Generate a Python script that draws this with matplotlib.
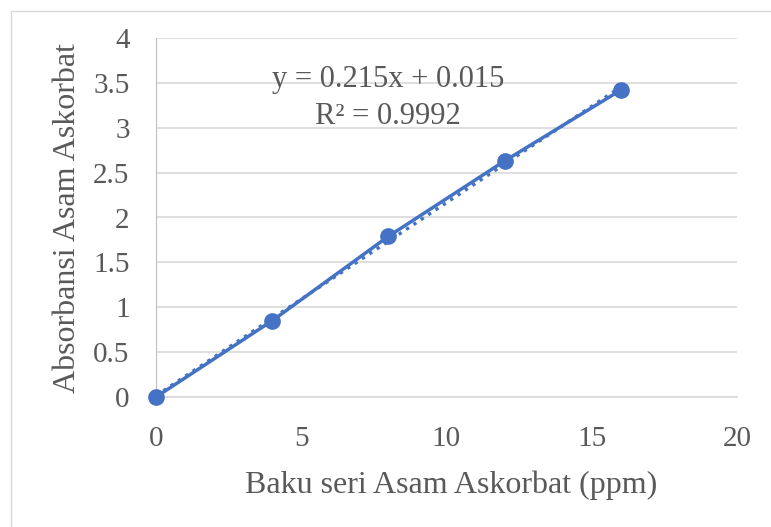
import matplotlib
matplotlib.use("Agg")
import matplotlib.pyplot as plt
import numpy as np
from matplotlib.patches import Rectangle

conc = [0, 4, 8, 12, 16]
absorb = [0.0, 0.85, 1.79, 2.63, 3.42]
slope = 0.215
intercept = 0.015
eq_text = "y = 0.215x + 0.015"
r2_text = "R² = 0.9992"
xticks = [0, 5, 10, 15, 20]
yticks = [0, 0.5, 1, 1.5, 2, 2.5, 3, 3.5, 4]
ytick_labels = ["0", "0.5", "1", "1.5", "2", "2.5", "3", "3.5", "4"]

plt.rcParams['font.family'] = ['Liberation Serif', 'DejaVu Serif']
blue = '#4472C4'
txt = '#595959'

W, H = 771, 527
fig = plt.figure(figsize=(W/100, H/100), dpi=100)
fig.patches.append(Rectangle((11/W, -0.1), 1.1, 1 - 11/H + 0.1, transform=fig.transFigure,
                             fill=False, edgecolor='#d9d9d9', linewidth=1))
ax = fig.add_axes([156/W, (H-397)/H, (737-156)/W, (397-38)/H])

ax.set_xlim(0, 20)
ax.set_ylim(0, 4)
ax.set_xticks(xticks)
ax.set_yticks(yticks)
ax.set_yticklabels(ytick_labels)
ax.grid(axis='y', color='#d9d9d9', linewidth=1.2)
ax.set_axisbelow(True)
for s in ['top', 'right']:
    ax.spines[s].set_visible(False)
ax.spines['left'].set_color('#bfbfbf')
ax.spines['bottom'].set_color('#d9d9d9')
ax.spines['bottom'].set_linewidth(1.2)
ax.tick_params(length=0, labelsize=21, colors=txt)
ax.tick_params(axis='y', pad=19)
ax.tick_params(axis='x', pad=21)

xs = np.array([conc[0], conc[-1]])
ax.plot(xs, slope * xs + intercept, linestyle=':', color=blue, linewidth=2.4, zorder=2)
ax.plot(conc, absorb, color=blue, linewidth=2.5, marker='o', markersize=11, zorder=3, clip_on=False)

fig.text(388/W, 1 - 80/H, eq_text, ha='center', va='center', fontsize=22, color=txt)
fig.text(388/W, 1 - 117/H, r2_text, ha='center', va='center', fontsize=22, color=txt)

ax.set_xlabel("Baku seri Asam Askorbat (ppm)", fontsize=23, color=txt)
ax.set_ylabel("Absorbansi Asam Askorbat", fontsize=23, color=txt)
ax.xaxis.set_label_coords(451/W, 1 - 485/H, transform=fig.transFigure)
ax.yaxis.set_label_coords(68/W, 1 - 218/H, transform=fig.transFigure)
ax.xaxis.label.set_va('center')
ax.yaxis.label.set_va('center')

fig.savefig("out.png", dpi=100)
